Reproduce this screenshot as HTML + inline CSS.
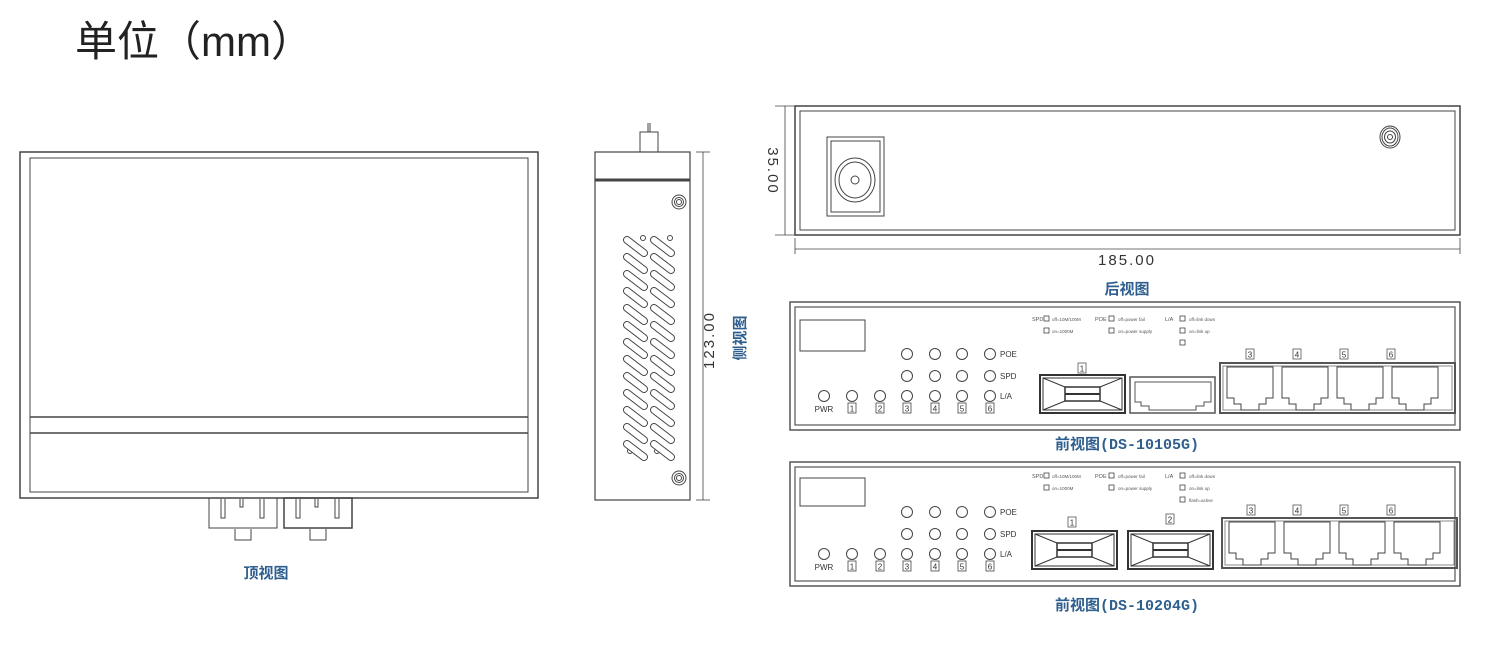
<!DOCTYPE html>
<html><head><meta charset="utf-8"><style>
html,body{margin:0;padding:0;background:#fff;}
svg{display:block;}
text{font-family:"Liberation Sans","Noto Sans CJK SC",sans-serif;}
.b{fill:#2f5f8f;font-family:"Liberation Mono","Noto Sans CJK SC",monospace;font-weight:bold;}
</style></head><body>
<svg width="1493" height="646" viewBox="0 0 1493 646" xmlns="http://www.w3.org/2000/svg">
<defs>
<g id="slot"><line x1="0" y1="0" x2="17" y2="13" stroke="#444" stroke-width="8" stroke-linecap="round"/><line x1="0" y1="0" x2="17" y2="13" stroke="#fff" stroke-width="6" stroke-linecap="round"/></g>
<g id="col"><use href="#slot" y="0"/><use href="#slot" y="17"/><use href="#slot" y="34"/><use href="#slot" y="51"/><use href="#slot" y="68"/><use href="#slot" y="85"/><use href="#slot" y="102"/><use href="#slot" y="119"/><use href="#slot" y="136"/><use href="#slot" y="153"/><use href="#slot" y="170"/><use href="#slot" y="187"/><use href="#slot" y="204"/></g>
<g id="rj" fill="none" stroke="#444" stroke-width="1"><path d="M0,0H46V31H39V37H32V43H14V37H7V31H0Z"/></g>
<g id="sfp" fill="none" stroke="#333"><rect x="0" y="0" width="85" height="38" stroke-width="2"/><rect x="3" y="3" width="79" height="32"/><rect x="25" y="12" width="35" height="14" stroke-width="1.5"/><line x1="25" y1="19" x2="60" y2="19" stroke-width="2"/><path d="M3,3L25,12M82,3L60,12M3,35L25,26M82,35L60,26"/></g>
<g id="led" fill="#fff" stroke="#444" stroke-width="1"><circle r="5.5"/></g>
<g id="leds">
<use href="#led" x="824" y="42"/><use href="#led" x="852" y="42"/><use href="#led" x="880" y="42"/>
<use href="#led" x="907" y="0"/><use href="#led" x="935" y="0"/><use href="#led" x="962" y="0"/><use href="#led" x="990" y="0"/>
<use href="#led" x="907" y="22"/><use href="#led" x="935" y="22"/><use href="#led" x="962" y="22"/><use href="#led" x="990" y="22"/>
<use href="#led" x="907" y="42"/><use href="#led" x="935" y="42"/><use href="#led" x="962" y="42"/><use href="#led" x="990" y="42"/>
<g fill="#fff" stroke="#444" stroke-width="0.8"><rect x="848" y="49" width="8" height="10"/><rect x="876" y="49" width="8" height="10"/><rect x="903" y="49" width="8" height="10"/><rect x="931" y="49" width="8" height="10"/><rect x="958" y="49" width="8" height="10"/><rect x="986" y="49" width="8" height="10"/></g>
<g font-size="8" fill="#333" text-anchor="middle"><text x="824" y="58">PWR</text><text x="852" y="57.5">1</text><text x="880" y="57.5">2</text><text x="907" y="57.5">3</text><text x="935" y="57.5">4</text><text x="962" y="57.5">5</text><text x="990" y="57.5">6</text></g>
<g font-size="8" fill="#333"><text x="1000" y="3">POE</text><text x="1000" y="25">SPD</text><text x="1000" y="45">L/A</text></g>
</g>
<g id="legend" font-size="4.5" fill="#555" stroke="none">
<g fill="#fff" stroke="#444" stroke-width="0.8"><rect x="1044" y="-4" width="5" height="5"/><rect x="1044" y="8" width="5" height="5"/><rect x="1109" y="-4" width="5" height="5"/><rect x="1109" y="8" width="5" height="5"/><rect x="1180" y="-4" width="5" height="5"/><rect x="1180" y="8" width="5" height="5"/><rect x="1180" y="20" width="5" height="5"/></g>
<text x="1032" y="1" font-size="5.5">SPD</text><text x="1052" y="1">off=10M/100M</text><text x="1052" y="13">on=1000M</text>
<text x="1095" y="1" font-size="5.5">POE</text><text x="1118" y="1">off=power fail</text><text x="1118" y="13">on=power supply</text>
<text x="1165" y="1" font-size="5.5">L/A</text><text x="1189" y="1">off=link down</text><text x="1189" y="13">on=link up</text>
</g>
<g id="rjg"><rect x="0" y="0" width="235" height="50" fill="none" stroke="#555" stroke-width="2"/><rect x="3" y="3" width="229" height="44" fill="none" stroke="#888" stroke-width="1"/><use href="#rj" x="7" y="4"/><use href="#rj" x="62" y="4"/><use href="#rj" x="117" y="4"/><use href="#rj" x="172" y="4"/></g>
</defs>

<text x="75" y="56" font-size="42" fill="#222" font-family="'Noto Sans CJK SC',sans-serif">单位（mm）</text>

<!-- top view -->
<g fill="none" stroke="#444">
<rect x="20" y="152" width="518" height="346" stroke-width="1.5"/>
<rect x="30" y="158" width="498" height="334" stroke-width="1"/>
<line x1="30" y1="417" x2="528" y2="417" stroke-width="1.5"/>
<line x1="30" y1="433" x2="528" y2="433" stroke-width="1.5"/>
<rect x="209" y="498" width="68" height="30"/><rect x="284" y="498" width="68" height="30" stroke-width="1.5"/>
<path d="M221,499V518H225V499M240,499V507H243V499M260,499V518H264V499"/>
<path d="M296,499V518H300V499M315,499V507H318V499M335,499V518H339V499"/>
<path d="M235,529V540H251V529M310,529V540H326V529"/>
</g>
<text x="266" y="578" font-size="15" class="b" text-anchor="middle" font-family="'Noto Sans CJK SC',sans-serif">顶视图</text>

<!-- side view -->
<g fill="none" stroke="#444">
<rect x="595" y="152" width="95" height="348" stroke-width="1.2"/>
<line x1="595" y1="180" x2="690" y2="180" stroke-width="3"/>
<rect x="640" y="132" width="18" height="20"/><line x1="648" y1="123" x2="648" y2="132"/><line x1="650" y1="123" x2="650" y2="132"/>
<circle cx="679" cy="202" r="7"/><circle cx="679" cy="202" r="4.5"/><circle cx="679" cy="202" r="2.5"/>
<circle cx="679" cy="478" r="7"/><circle cx="679" cy="478" r="4.5"/><circle cx="679" cy="478" r="2.5"/>
<circle cx="643" cy="238" r="2.5"/><circle cx="670" cy="238" r="2.5"/><circle cx="630" cy="451" r="2.5"/><circle cx="657" cy="451" r="2.5"/>
<line x1="703" y1="152" x2="703" y2="500" stroke-width="0.8"/><line x1="696" y1="152" x2="710" y2="152" stroke-width="0.8"/><line x1="696" y1="500" x2="710" y2="500" stroke-width="0.8"/>
</g>
<use href="#col" x="627" y="240"/><use href="#col" x="654" y="240"/>
<text transform="translate(714,340) rotate(-90)" font-size="15" fill="#333" text-anchor="middle" letter-spacing="2">123.00</text>
<text transform="translate(745,338) rotate(-90)" font-size="15" class="b" text-anchor="middle" font-family="'Noto Sans CJK SC',sans-serif">侧视图</text>

<!-- back view -->
<g fill="none" stroke="#444">
<rect x="795" y="106" width="665" height="129" stroke-width="1.5"/>
<rect x="800" y="111" width="655" height="119" stroke-width="1"/>
<rect x="827" y="137" width="57" height="79"/><rect x="831" y="141" width="49" height="71"/>
<ellipse cx="855" cy="180" rx="20" ry="22"/><ellipse cx="855" cy="180" rx="16" ry="18"/><circle cx="855" cy="180" r="4"/>
<ellipse cx="1390" cy="137" rx="10" ry="11"/><ellipse cx="1390" cy="137" rx="8" ry="9"/><ellipse cx="1390" cy="137" rx="5.5" ry="6"/><circle cx="1390" cy="137" r="2.5"/>
<g stroke-width="0.8"><line x1="785" y1="106" x2="785" y2="235"/><line x1="775" y1="106" x2="795" y2="106"/><line x1="775" y1="235" x2="795" y2="235"/>
<line x1="795" y1="249" x2="1460" y2="249"/><line x1="795" y1="238" x2="795" y2="254"/><line x1="1460" y1="238" x2="1460" y2="254"/></g>
</g>
<text transform="translate(768,171) rotate(90)" font-size="15" fill="#333" text-anchor="middle" letter-spacing="2">35.00</text>
<text x="1127" y="265" font-size="15" fill="#333" text-anchor="middle" letter-spacing="2">185.00</text>
<text x="1127" y="294" font-size="15" class="b" text-anchor="middle" font-family="'Noto Sans CJK SC',sans-serif">后视图</text>

<!-- front view 1 -->
<g fill="none" stroke="#555">
<rect x="790" y="302" width="670" height="128" stroke-width="1.5"/>
<rect x="795" y="307" width="660" height="118" stroke-width="1.2"/>
<rect x="800" y="320" width="65" height="31" stroke="#444"/>
</g>
<use href="#leds" y="354"/>
<use href="#legend" y="320"/>
<use href="#sfp" x="1040" y="375"/>
<g fill="none" stroke="#555"><rect x="1130" y="377" width="85" height="36" stroke-width="1.5"/><path d="M1135,382H1211V402H1204V406H1196V410H1149V406H1141V402H1135Z"/>
<rect x="1078" y="363" width="8" height="10" stroke-width="0.8"/></g>
<text x="1082" y="371.5" font-size="8" text-anchor="middle" fill="#333">1</text>
<use href="#rjg" x="1220" y="363"/>
<g fill="none" stroke="#555" stroke-width="0.8"><rect x="1246" y="349" width="8" height="10"/><rect x="1293" y="349" width="8" height="10"/><rect x="1340" y="349" width="8" height="10"/><rect x="1387" y="349" width="8" height="10"/></g>
<g font-size="8" text-anchor="middle" fill="#333"><text x="1250" y="357.5">3</text><text x="1297" y="357.5">4</text><text x="1344" y="357.5">5</text><text x="1391" y="357.5">6</text></g>
<text x="1127" y="449" font-size="15" class="b" text-anchor="middle" font-family="'Liberation Mono','Noto Sans CJK SC',monospace">前视图(DS-10105G)</text>

<!-- front view 2 -->
<g fill="none" stroke="#555">
<rect x="790" y="462" width="670" height="124" stroke-width="1.5"/>
<rect x="795" y="467" width="660" height="114" stroke-width="1.2"/>
<rect x="800" y="478" width="65" height="28" stroke="#444"/>
</g>
<use href="#leds" y="512"/>
<use href="#legend" y="477"/>
<text x="1189" y="502" font-size="4.5" fill="#555">flash=active</text>
<use href="#sfp" x="1032" y="531"/>
<use href="#sfp" x="1128" y="531"/>
<g fill="none" stroke="#555" stroke-width="0.8"><rect x="1068" y="517" width="8" height="10"/><rect x="1166" y="514" width="8" height="10"/></g>
<g font-size="8" text-anchor="middle" fill="#333"><text x="1072" y="525.5">1</text><text x="1170" y="522.5">2</text></g>
<use href="#rjg" x="1222" y="518"/>
<g fill="none" stroke="#555" stroke-width="0.8"><rect x="1247" y="505" width="8" height="10"/><rect x="1293" y="505" width="8" height="10"/><rect x="1340" y="505" width="8" height="10"/><rect x="1387" y="505" width="8" height="10"/></g>
<g font-size="8" text-anchor="middle" fill="#333"><text x="1251" y="513.5">3</text><text x="1297" y="513.5">4</text><text x="1344" y="513.5">5</text><text x="1391" y="513.5">6</text></g>
<text x="1127" y="610" font-size="15" class="b" text-anchor="middle" font-family="'Liberation Mono','Noto Sans CJK SC',monospace">前视图(DS-10204G)</text>
</svg>
</body></html>
